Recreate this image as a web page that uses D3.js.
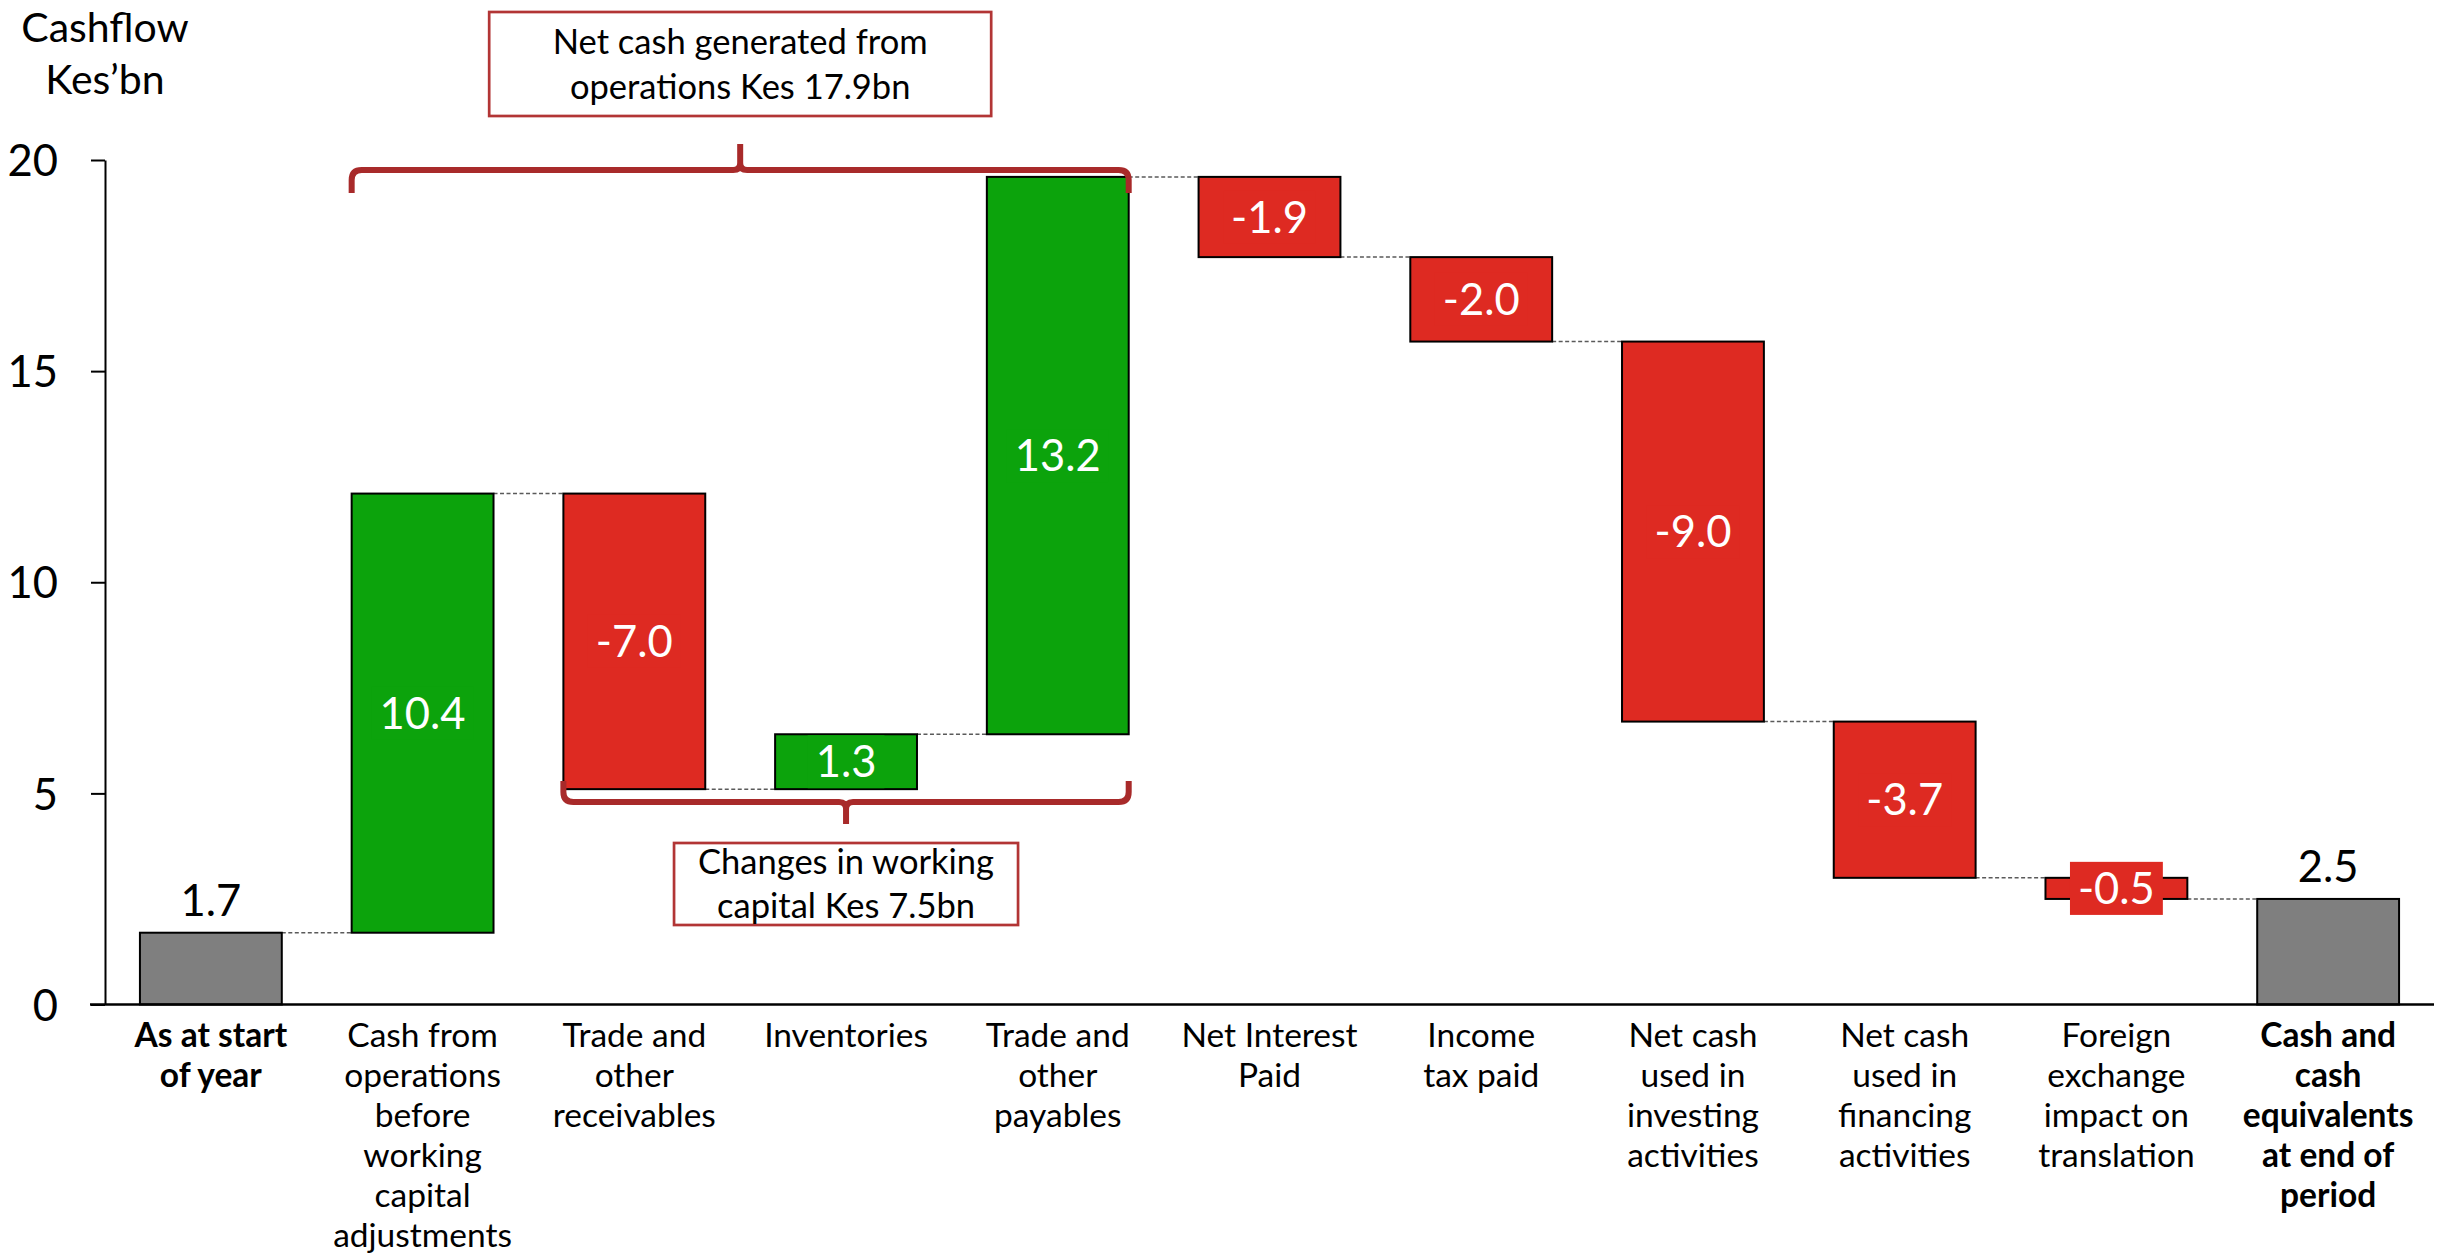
<!DOCTYPE html>
<html>
<head>
<meta charset="utf-8">
<script src="https://cdn.jsdelivr.net/npm/d3@7"></script>
<style>
  html, body { margin: 0; padding: 0; background: #ffffff; }
  svg { display: block; }
  text { font-family: Lato, "Open Sans", "Noto Sans", sans-serif; }
</style>
</head>
<body>
<svg id="chart" width="2451" height="1255"></svg>
<script>
// ---- Data -------------------------------------------------------------
const categories = [
  "As at start of year",
  "Cash from operations before working capital adjustments",
  "Trade and other receivables",
  "Inventories",
  "Trade and other payables",
  "Net Interest Paid",
  "Income tax paid",
  "Net cash used in investing activities",
  "Net cash used in financing activities",
  "Foreign exchange impact on translation",
  "Cash and cash equivalents at end of period"
];
const categoryLines = [
  ["As at start", "of year"],
  ["Cash from", "operations", "before", "working", "capital", "adjustments"],
  ["Trade and", "other", "receivables"],
  ["Inventories"],
  ["Trade and", "other", "payables"],
  ["Net Interest", "Paid"],
  ["Income", "tax paid"],
  ["Net cash", "used in", "investing", "activities"],
  ["Net cash", "used in", "financing", "activities"],
  ["Foreign", "exchange", "impact on", "translation"],
  ["Cash and", "cash", "equivalents", "at end of", "period"]
];
const values   = [1.7, 10.4, -7.0, 1.3, 13.2, -1.9, -2.0, -9.0, -3.7, -0.5, 2.5];
const barTypes = ["total", "delta", "delta", "delta", "delta", "delta", "delta", "delta", "delta", "delta", "total"];
const yTicks = [0, 5, 10, 15, 20];
const yTitle = ["Cashflow", "Kes’bn"];

// Bracketed groups of bars with their summary text
const groupFrom   = [1, 2];
const groupTo     = [4, 4];
const groupLabels = [
  ["Net cash generated from", "operations Kes 17.9bn"],
  ["Changes in working", "capital Kes 7.5bn"]
];

// ---- Layout & style ---------------------------------------------------
const W = 2451, H = 1255;
const plotLeft = 105, plotRight = 2434;
const yZero = 1004.5, yTop = 160;
const colors = { total: "#7f7f7f", up: "#0ca30c", down: "#de2a22" };
const braceColor = "#a82a2a";
const boxColor = "#b23535";
const FS_VALUE = 43.5, FS_CAT = 33.5, FS_TITLE = 41, FS_BOX = 34.5;

// Running levels for the waterfall
const bars = [];
let level = 0;
values.forEach((v, i) => {
  let start, end;
  if (barTypes[i] === "total") { start = 0; end = v; level = v; }
  else { start = level; end = level + v; level = end; }
  bars.push({ i, v, start, end, type: barTypes[i],
    kind: barTypes[i] === "total" ? "total" : (v >= 0 ? "up" : "down") });
});

const svg = d3.select("#chart");

const x = d3.scaleBand()
  .domain(d3.range(categories.length))
  .range([plotLeft, plotRight])
  .paddingInner(0.33)
  .paddingOuter(0.165);
const bw = x.bandwidth();

const y = d3.scaleLinear().domain([0, 20]).range([yZero, yTop]);

// ---- Axes ---------------------------------------------------------------
const yAxis = svg.append("g")
  .attr("transform", `translate(${plotLeft},0)`)
  .call(d3.axisLeft(y).tickValues(yTicks).tickSize(14).tickSizeOuter(0).tickPadding(33)
    .tickFormat(d3.format("d")));
yAxis.select(".domain").attr("stroke", "#000").attr("stroke-width", 2);
yAxis.selectAll(".tick line").attr("stroke", "#000").attr("stroke-width", 2);
yAxis.selectAll(".tick text")
  .attr("font-size", FS_VALUE)
  .attr("font-family", "Lato, 'Open Sans', sans-serif")
  .attr("fill", "#000")
  .attr("dy", "0.36em");

// y-axis title
const title = svg.append("text")
  .attr("text-anchor", "middle")
  .attr("font-size", FS_TITLE)
  .attr("fill", "#000");
yTitle.forEach((t, k) => {
  title.append("tspan").attr("x", plotLeft).attr("y", 41.7 + k * 52.6).text(t);
});

// ---- Connectors --------------------------------------------------------
svg.append("g").selectAll("line")
  .data(bars.slice(0, -1))
  .join("line")
  .attr("x1", d => x(d.i) + bw)
  .attr("x2", d => x(d.i + 1))
  .attr("y1", d => y(d.end))
  .attr("y2", d => y(d.end))
  .attr("stroke", "#5a5a5a")
  .attr("stroke-width", 1.5)
  .attr("stroke-dasharray", "4,2.5");

// ---- Bars ----------------------------------------------------------------
svg.append("g").selectAll("rect")
  .data(bars)
  .join("rect")
  .attr("x", d => x(d.i))
  .attr("width", bw)
  .attr("y", d => y(Math.max(d.start, d.end)))
  .attr("height", d => Math.abs(y(d.start) - y(d.end)))
  .attr("fill", d => colors[d.kind])
  .attr("stroke", "#000")
  .attr("stroke-width", 2);

// x-axis baseline
svg.append("line")
  .attr("x1", 90).attr("x2", plotRight)
  .attr("y1", yZero).attr("y2", yZero)
  .attr("stroke", "#000").attr("stroke-width", 2.5);

// ---- Value labels ------------------------------------------------------
const fmt = v => v.toFixed(1);
const labels = svg.append("g");
bars.forEach(d => {
  const cx = x(d.i) + bw / 2;
  if (d.type === "total") {
    labels.append("text")
      .attr("x", cx).attr("y", y(d.end) - 16.5)
      .attr("text-anchor", "middle")
      .attr("font-size", FS_VALUE)
      .attr("fill", "#000")
      .text(fmt(d.v));
  } else {
    const cy = (y(d.start) + y(d.end)) / 2;
    const g = labels.append("g");
    const bg = g.append("rect").attr("fill", colors[d.kind]);
    const t = g.append("text")
      .attr("x", cx).attr("y", cy)
      .attr("dy", "0.36em")
      .attr("text-anchor", "middle")
      .attr("font-size", FS_VALUE)
      .attr("fill", "#fff")
      .text(fmt(d.v));
    const tw = t.node().getComputedTextLength();
    const bh = FS_VALUE * 1.22;
    bg.attr("x", cx - tw / 2 - 8).attr("width", tw + 16)
      .attr("y", cy - bh / 2).attr("height", bh);
  }
});

// ---- Category labels ---------------------------------------------------
const cats = svg.append("g");
categoryLines.forEach((lines, i) => {
  const t = cats.append("text")
    .attr("text-anchor", "middle")
    .attr("font-size", FS_CAT)
    .attr("font-weight", barTypes[i] === "total" ? "bold" : "normal")
    .attr("fill", "#000");
  lines.forEach((ln, k) => {
    t.append("tspan").attr("x", x(i) + bw / 2).attr("y", 1046.7 + k * 40).text(ln);
  });
});

// ---- Group braces and summary boxes -------------------------------------
function bracePath(xL, xR, yLine, yEnd, yTip, rEnd, rMid) {
  const xm = (xL + xR) / 2;
  const s = Math.sign(yEnd - yLine);
  return `M${xL},${yEnd} L${xL},${yLine + s * rEnd} Q${xL},${yLine} ${xL + rEnd},${yLine}` +
         ` L${xm - rMid},${yLine} Q${xm},${yLine} ${xm},${yLine - s * rMid} L${xm},${yTip}` +
         ` M${xm},${yLine - s * rMid} Q${xm},${yLine} ${xm + rMid},${yLine}` +
         ` L${xR - rEnd},${yLine} Q${xR},${yLine} ${xR},${yLine + s * rEnd} L${xR},${yEnd}`;
}
const braceGeom = [
  { yLine: 170, yEnd: 193, yTip: 144, box: { y: 12, h: 104, w: 502 }, base: [54.3, 99.3] },
  { yLine: 802, yEnd: 781, yTip: 824, box: { y: 843, h: 82, w: 344 }, base: [874.3, 918.3] }
];
const ann = svg.append("g");
groupFrom.forEach((from, j) => {
  const gm = braceGeom[j];
  const xL = x(from), xR = x(groupTo[j]) + bw;
  const xm = (xL + xR) / 2;
  ann.append("path")
    .attr("d", bracePath(xL, xR, gm.yLine, gm.yEnd, gm.yTip, 10, 7))
    .attr("fill", "none")
    .attr("stroke", braceColor)
    .attr("stroke-width", 6);
  ann.append("rect")
    .attr("x", xm - gm.box.w / 2).attr("y", gm.box.y)
    .attr("width", gm.box.w).attr("height", gm.box.h)
    .attr("fill", "#fff")
    .attr("stroke", boxColor).attr("stroke-width", 2.7);
  const t = ann.append("text")
    .attr("text-anchor", "middle")
    .attr("font-size", FS_BOX)
    .attr("fill", "#000");
  groupLabels[j].forEach((ln, k) => {
    t.append("tspan").attr("x", xm).attr("y", gm.base[k]).text(ln);
  });
});
</script>
</body>
</html>
